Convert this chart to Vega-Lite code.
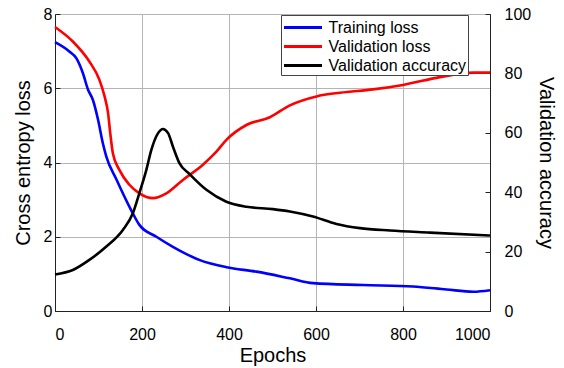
{
  "$schema": "https://vega.github.io/schema/vega-lite/v6.json",
  "autosize": "none",
  "width": 435,
  "height": 297,
  "padding": {"left": 55, "top": 14, "right": 74, "bottom": 57},
  "background": "white",
  "config": {
    "font": "Liberation Sans",
    "view": {"stroke": "#222", "strokeWidth": 1},
    "axis": {"labelFont": "Liberation Sans", "titleFont": "Liberation Sans", "labelColor": "black", "titleColor": "black", "titleFontWeight": "normal", "labelFontSize": 16, "titleFontSize": 20, "domainColor": "#222", "tickColor": "#222", "gridColor": "#b4b4b4", "gridWidth": 1}
  },
  "data": {"values": [
    {"epoch": 0, "value": 7.24, "series": "Training loss"},
    {"epoch": 33, "value": 6.99, "series": "Training loss"},
    {"epoch": 49, "value": 6.81, "series": "Training loss"},
    {"epoch": 64, "value": 6.41, "series": "Training loss"},
    {"epoch": 76, "value": 5.96, "series": "Training loss"},
    {"epoch": 87, "value": 5.69, "series": "Training loss"},
    {"epoch": 99, "value": 5.15, "series": "Training loss"},
    {"epoch": 110, "value": 4.52, "series": "Training loss"},
    {"epoch": 118, "value": 4.16, "series": "Training loss"},
    {"epoch": 141, "value": 3.55, "series": "Training loss"},
    {"epoch": 175, "value": 2.72, "series": "Training loss"},
    {"epoch": 194, "value": 2.32, "series": "Training loss"},
    {"epoch": 233, "value": 2.0, "series": "Training loss"},
    {"epoch": 271, "value": 1.73, "series": "Training loss"},
    {"epoch": 333, "value": 1.37, "series": "Training loss"},
    {"epoch": 394, "value": 1.18, "series": "Training loss"},
    {"epoch": 463, "value": 1.06, "series": "Training loss"},
    {"epoch": 540, "value": 0.88, "series": "Training loss"},
    {"epoch": 593, "value": 0.75, "series": "Training loss"},
    {"epoch": 708, "value": 0.70, "series": "Training loss"},
    {"epoch": 823, "value": 0.66, "series": "Training loss"},
    {"epoch": 900, "value": 0.58, "series": "Training loss"},
    {"epoch": 962, "value": 0.52, "series": "Training loss"},
    {"epoch": 1000, "value": 0.56, "series": "Training loss"},
    {"epoch": 0, "value": 7.65, "series": "Validation loss"},
    {"epoch": 41, "value": 7.26, "series": "Validation loss"},
    {"epoch": 79, "value": 6.72, "series": "Validation loss"},
    {"epoch": 102, "value": 6.23, "series": "Validation loss"},
    {"epoch": 114, "value": 5.78, "series": "Validation loss"},
    {"epoch": 122, "value": 5.33, "series": "Validation loss"},
    {"epoch": 127, "value": 4.79, "series": "Validation loss"},
    {"epoch": 133, "value": 4.25, "series": "Validation loss"},
    {"epoch": 148, "value": 3.8, "series": "Validation loss"},
    {"epoch": 171, "value": 3.4, "series": "Validation loss"},
    {"epoch": 194, "value": 3.17, "series": "Validation loss"},
    {"epoch": 225, "value": 3.04, "series": "Validation loss"},
    {"epoch": 256, "value": 3.17, "series": "Validation loss"},
    {"epoch": 294, "value": 3.53, "series": "Validation loss"},
    {"epoch": 340, "value": 3.94, "series": "Validation loss"},
    {"epoch": 371, "value": 4.29, "series": "Validation loss"},
    {"epoch": 394, "value": 4.61, "series": "Validation loss"},
    {"epoch": 440, "value": 5.01, "series": "Validation loss"},
    {"epoch": 494, "value": 5.22, "series": "Validation loss"},
    {"epoch": 540, "value": 5.54, "series": "Validation loss"},
    {"epoch": 601, "value": 5.78, "series": "Validation loss"},
    {"epoch": 655, "value": 5.88, "series": "Validation loss"},
    {"epoch": 731, "value": 5.97, "series": "Validation loss"},
    {"epoch": 800, "value": 6.09, "series": "Validation loss"},
    {"epoch": 885, "value": 6.3, "series": "Validation loss"},
    {"epoch": 962, "value": 6.42, "series": "Validation loss"},
    {"epoch": 1000, "value": 6.42, "series": "Validation loss"},
    {"epoch": 0, "value": 12.3, "series": "Validation accuracy"},
    {"epoch": 41, "value": 13.8, "series": "Validation accuracy"},
    {"epoch": 79, "value": 17.2, "series": "Validation accuracy"},
    {"epoch": 118, "value": 21.7, "series": "Validation accuracy"},
    {"epoch": 156, "value": 27.3, "series": "Validation accuracy"},
    {"epoch": 179, "value": 32.9, "series": "Validation accuracy"},
    {"epoch": 194, "value": 39.7, "series": "Validation accuracy"},
    {"epoch": 210, "value": 47.5, "series": "Validation accuracy"},
    {"epoch": 221, "value": 54.0, "series": "Validation accuracy"},
    {"epoch": 237, "value": 59.9, "series": "Validation accuracy"},
    {"epoch": 248, "value": 61.3, "series": "Validation accuracy"},
    {"epoch": 260, "value": 59.9, "series": "Validation accuracy"},
    {"epoch": 271, "value": 55.4, "series": "Validation accuracy"},
    {"epoch": 286, "value": 49.8, "series": "Validation accuracy"},
    {"epoch": 310, "value": 46.0, "series": "Validation accuracy"},
    {"epoch": 348, "value": 40.8, "series": "Validation accuracy"},
    {"epoch": 394, "value": 36.8, "series": "Validation accuracy"},
    {"epoch": 440, "value": 35.1, "series": "Validation accuracy"},
    {"epoch": 501, "value": 34.3, "series": "Validation accuracy"},
    {"epoch": 540, "value": 33.5, "series": "Validation accuracy"},
    {"epoch": 593, "value": 31.8, "series": "Validation accuracy"},
    {"epoch": 647, "value": 29.3, "series": "Validation accuracy"},
    {"epoch": 701, "value": 27.9, "series": "Validation accuracy"},
    {"epoch": 770, "value": 27.1, "series": "Validation accuracy"},
    {"epoch": 862, "value": 26.4, "series": "Validation accuracy"},
    {"epoch": 1000, "value": 25.4, "series": "Validation accuracy"}
  ]},
  "encoding": {
    "x": {"field": "epoch", "type": "quantitative", "scale": {"domain": [0, 1000], "nice": false},
      "axis": {"title": "Epochs", "values": [0, 200, 400, 600, 800, 1000], "format": "d", "tickSize": -5, "labelPadding": 20, "titlePadding": 3}},
    "color": {"field": "series", "type": "nominal",
      "scale": {"domain": ["Training loss", "Validation loss", "Validation accuracy"], "range": ["#0000ff", "#ff0000", "#000000"]},
      "legend": {"title": null, "orient": "none", "legendX": 226, "legendY": 1, "symbolType": "M-1,0H3", "symbolSize": 361, "symbolStrokeWidth": 3, "labelFontSize": 16, "labelFont": "Liberation Sans", "labelColor": "black", "strokeColor": "#444", "fillColor": "white", "padding": 1.5, "labelOffset": 24, "rowPadding": -1.5}}
  },
  "layer": [
    {
      "transform": [{"filter": "datum.series !== 'Validation accuracy'"}],
      "mark": {"type": "line", "strokeWidth": 2.6, "interpolate": "monotone"},
      "encoding": {
        "y": {"field": "value", "type": "quantitative", "scale": {"domain": [0, 8], "nice": false},
          "axis": {"title": "Cross entropy loss", "values": [0, 2, 4, 6, 8], "tickSize": -5, "labelPadding": 8, "titlePadding": 10}}
      }
    },
    {
      "transform": [{"filter": "datum.series === 'Validation accuracy'"}],
      "mark": {"type": "line", "strokeWidth": 2.6, "interpolate": "monotone"},
      "encoding": {
        "y": {"field": "value", "type": "quantitative", "scale": {"domain": [0, 100], "nice": false},
          "axis": {"orient": "right", "title": "Validation accuracy", "values": [0, 20, 40, 60, 80, 100], "grid": false, "tickSize": -5, "labelPadding": 19, "titlePadding": 5}}
      }
    }
  ],
  "resolve": {"scale": {"y": "independent"}}
}
